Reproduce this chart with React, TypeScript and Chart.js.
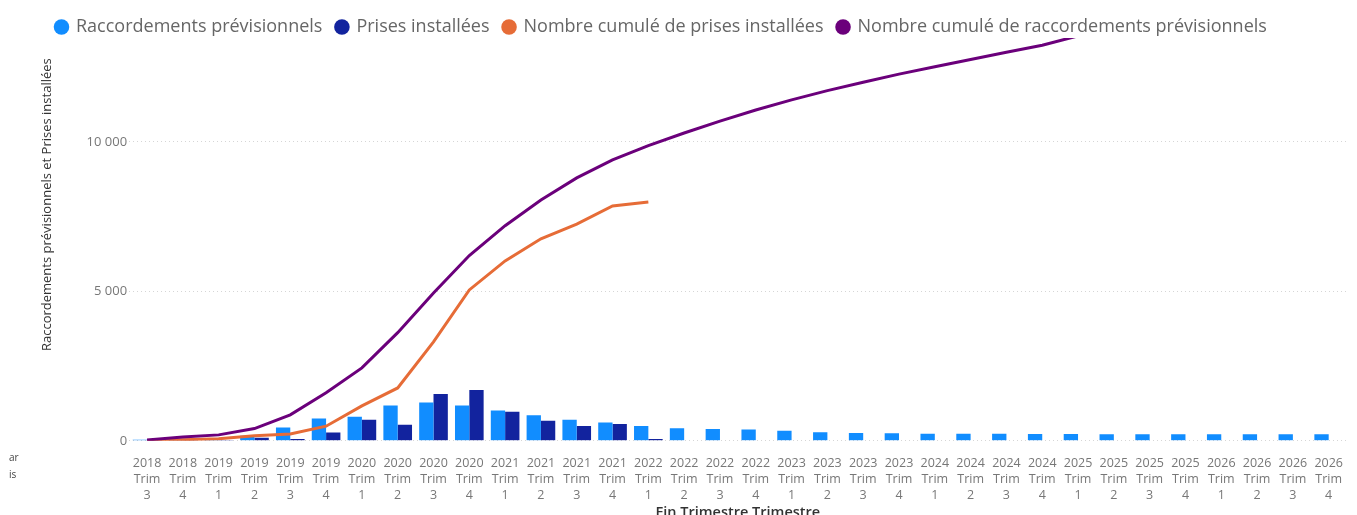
import { useEffect, useRef } from 'react';
import { Chart, registerables } from 'chart.js';

Chart.register(...registerables);

const years = [
  '2018', '2018',
  '2019', '2019', '2019', '2019',
  '2020', '2020', '2020', '2020',
  '2021', '2021', '2021', '2021',
  '2022', '2022', '2022', '2022',
  '2023', '2023', '2023', '2023',
  '2024', '2024', '2024', '2024',
  '2025', '2025', '2025', '2025',
  '2026', '2026', '2026', '2026',
];
const trims = [
  '3', '4',
  '1', '2', '3', '4',
  '1', '2', '3', '4',
  '1', '2', '3', '4',
  '1', '2', '3', '4',
  '1', '2', '3', '4',
  '1', '2', '3', '4',
  '1', '2', '3', '4',
  '1', '2', '3', '4',
];

const raccordementsPrevisionnels = [
  40, 60, 40, 170, 450, 750, 810, 1180, 1280, 1180, 1015, 860, 710, 610, 500, 420, 400,
  380, 335, 290, 260, 255, 240, 240, 240, 230, 230, 225, 225, 225, 225, 220, 220, 220,
];
const prisesInstallees = [
  10, 30, 30, 100, 60, 280, 710, 535, 1570, 1705, 970, 670, 500, 560, 60,
  null, null, null, null, null, null, null, null, null, null, null, null, null, null, null, null, null, null, null,
];
const cumulPrisesInstallees = [
  10, 40, 70, 170, 230, 490, 1170, 1770, 3310, 5050, 6020, 6760, 7250, 7860, 7990,
  null, null, null, null, null, null, null, null, null, null, null, null, null, null, null, null, null, null, null,
];
const cumulRaccordementsPrevisionnels = [
  30, 130, 200, 410, 870, 1610, 2440, 3620, 4950, 6200, 7200, 8060, 8800, 9400, 9880, 10300, 10700,
  11070, 11410, 11720, 12000, 12270, 12520, 12760, 13000, 13240, 13550, 13780, 14010, 14240, 14470, 14690, 14910, 15130,
];

const yTicks = [0, 5000, 10000];
const yMax = 13480;

const fmt = (v: number) => String(v).replace(/\B(?=(\d{3})+(?!\d))/g, ' ');

const legendTweak = {
  id: 'legendTweak',
  beforeLayout(chart: any) {
    const lg = chart.legend;
    if (lg && !lg._tweaked) {
      const orig = lg.fit.bind(lg);
      lg.fit = function () {
        orig();
        this.height = 34;
      };
      lg._tweaked = true;
    }
  },
  afterLayout(chart: any) {
    const lg = chart.legend;
    if (lg) lg.left += 7;
  },
};

export default function App() {
  const ref = useRef<HTMLCanvasElement>(null);

  useEffect(() => {
    Chart.defaults.font.family = '"Open Sans", "Noto Sans", sans-serif';
    const chart = new Chart(ref.current as HTMLCanvasElement, {
      type: 'bar',
      plugins: [legendTweak],
      data: {
        labels: years.map((y, i) => [y, 'Trim', trims[i]]),
        datasets: [
          {
            type: 'bar',
            label: 'Raccordements prévisionnels',
            data: raccordementsPrevisionnels,
            backgroundColor: '#118DFF',
            categoryPercentage: 0.8,
            barPercentage: 1.0,
            order: 2,
          },
          {
            type: 'bar',
            label: 'Prises installées',
            data: prisesInstallees,
            backgroundColor: '#12239E',
            categoryPercentage: 0.8,
            barPercentage: 1.0,
            order: 2,
          },
          {
            type: 'line',
            label: 'Nombre cumulé de prises installées',
            data: cumulPrisesInstallees,
            borderColor: '#E66C37',
            backgroundColor: '#E66C37',
            borderWidth: 3,
            pointRadius: 0,
            tension: 0,
            order: 1,
          },
          {
            type: 'line',
            label: 'Nombre cumulé de raccordements prévisionnels',
            data: cumulRaccordementsPrevisionnels,
            borderColor: '#6B007B',
            backgroundColor: '#6B007B',
            borderWidth: 3,
            pointRadius: 0,
            tension: 0,
            order: 0,
          },
        ],
      } as any,
      options: {
        animation: false,
        responsive: true,
        maintainAspectRatio: false,
        layout: { padding: { left: 35, right: 1, top: 4, bottom: 0 } },
        plugins: {
          tooltip: { enabled: false },
          legend: {
            position: 'top',
            align: 'start',
            labels: {
              usePointStyle: true,
              boxWidth: 11,
              boxHeight: 11,
              padding: 14,
              color: '#666666',
              font: { size: 18 },
              sort: (a: any, b: any) => a.datasetIndex - b.datasetIndex,
              generateLabels: (c: any) =>
                Chart.defaults.plugins.legend.labels.generateLabels(c).map((it: any) => ({
                  ...it,
                  pointStyle: 'circle',
                  lineWidth: 0,
                  strokeStyle: it.fillStyle,
                })),
            },
          },
        },
        scales: {
          x: {
            grid: { display: false, drawTicks: false },
            border: { display: false },
            ticks: {
              color: '#777777',
              font: { size: 12.5, lineHeight: 1.3 },
              maxRotation: 0,
              minRotation: 0,
              autoSkip: false,
              padding: 14,
            },
            title: {
              display: true,
              text: 'Fin Trimestre Trimestre',
              color: '#333333',
              font: { size: 14.5, weight: '600' },
              padding: { top: -13, bottom: 2 },
            },
          },
          y: {
            min: 0,
            max: yMax,
            afterBuildTicks: (s: any) => {
              s.ticks = yTicks.map((v) => ({ value: v }));
            },
            grid: { color: '#d6d6d6', drawTicks: false, lineWidth: 1 },
            border: { display: false, dash: [1, 3] },
            ticks: {
              color: '#777777',
              font: { size: 13 },
              padding: 2,
              callback: (v: any) => fmt(Number(v)),
            },
            title: {
              display: true,
              text: 'Raccordements prévisionnels et Prises installées\u00a0\u00a0\u00a0\u00a0\u00a0\u00a0',
              align: 'end',
              color: '#333333',
              font: { size: 13 },
              padding: { top: 4, bottom: 30 },
            },
          },
        },
      },
    });
    return () => chart.destroy();
  }, []);

  return (
    <div style={{ position: 'fixed', left: 0, top: 0, width: 1357, height: 524, background: '#fff' }}>
      <canvas ref={ref} />
      <span style={{ position: 'absolute', left: 9, top: 450, font: '10px "Open Sans", sans-serif', color: '#444' }}>ar</span>
      <span style={{ position: 'absolute', left: 9, top: 467, font: '10px "Open Sans", sans-serif', color: '#444' }}>is</span>
    </div>
  );
}
